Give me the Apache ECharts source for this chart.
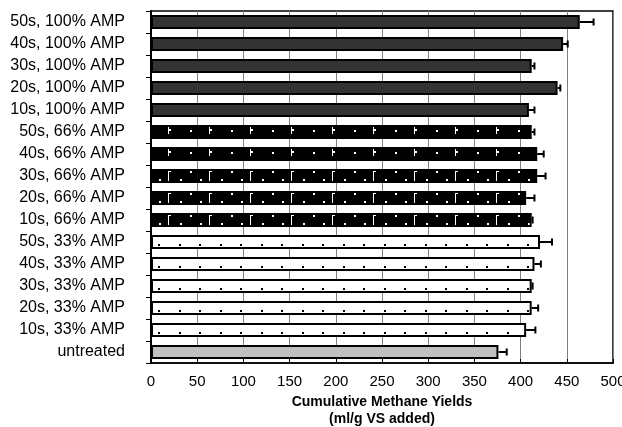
<!DOCTYPE html>
<html>
<head>
<meta charset="utf-8">
<script src="https://cdn.jsdelivr.net/npm/echarts@6/dist/echarts.min.js"></script>
<style>
  html, body { margin: 0; padding: 0; background: #fff; }
  #chart { width: 622px; height: 427px; }
</style>
</head>
<body>
<div id="chart"></div>
<script>
// Treatments, listed top to bottom
const categories = [
  '50s, 100% AMP', '40s, 100% AMP', '30s, 100% AMP', '20s, 100% AMP', '10s, 100% AMP',
  '50s, 66% AMP', '40s, 66% AMP', '30s, 66% AMP', '20s, 66% AMP', '10s, 66% AMP',
  '50s, 33% AMP', '40s, 33% AMP', '30s, 33% AMP', '20s, 33% AMP', '10s, 33% AMP',
  'untreated'
];
// Cumulative methane yield (ml/g VS added) and its standard deviation
const yields = [464, 446, 412, 440, 409, 412, 418, 418, 406, 412, 421, 415, 412, 412, 406, 376];
const errors = [15, 5, 3, 3, 6, 3, 7, 9, 9, 1, 13, 7, 1, 7, 10, 9];
// Fill style of each treatment
const fills = [
  'amp100', 'amp100', 'amp100', 'amp100', 'amp100',
  'amp66a', 'amp66a', 'amp66b', 'amp66b', 'amp66b',
  'amp33', 'amp33', 'amp33', 'amp33', 'amp33',
  'none'
];
const xTicks = [0, 50, 100, 150, 200, 250, 300, 350, 400, 450, 500];

// Layout constants
const GRID_TOP = 11;
const BAND = 22;          // pixels per category
const BAR_W = 14;
const BAR_OFF = (GRID_TOP + (BAND - BAR_W) / 2) % BAND;

// Tiled fill patterns, aligned with the bar band so marks sit inside each bar
function tile(w, bg, draw) {
  const c = document.createElement('canvas');
  c.width = w; c.height = BAND;
  const ctx = c.getContext('2d');
  ctx.fillStyle = bg;
  ctx.fillRect(0, 0, w, BAND);
  const mark = (x, y, ww, hh, col) => {
    ctx.fillStyle = col;
    for (const dy of [-BAND, 0, BAND]) ctx.fillRect(x, BAR_OFF + y + dy, ww, hh);
  };
  draw(mark);
  return { image: c, repeat: 'repeat' };
}

const patterns = {
  amp100: '#333333',
  none: '#c0c0c0',
  amp33: tile(41, '#ffffff', m => {
    m(15, 9, 2, 2, '#000');
    m(35, 9, 2, 2, '#000');
  }),
  amp66a: tile(41, '#000000', m => {
    m(4, 2, 1, 7, '#fff');
    m(5, 4, 2, 2, '#fff');
    m(26, 5, 2, 2, '#fff');
  }),
  amp66b: tile(41, '#000000', m => {
    m(4, 2, 1, 10, '#fff');
    m(4, 2, 3, 1, '#fff');
    m(26, 2, 2, 2, '#fff');
    m(16, 10, 2, 2, '#fff');
    m(36, 10, 2, 2, '#fff');
  })
};

const barData = yields.map((v, i) => ({
  value: v,
  itemStyle: { color: patterns[fills[i]] }
}));
const errData = yields.map((v, i) => [v, i, errors[i]]);

const chart = echarts.init(document.getElementById('chart'), null, { renderer: 'canvas' });
chart.setOption({
  animation: false,
  backgroundColor: '#ffffff',
  textStyle: { fontFamily: 'Liberation Sans, Arial, sans-serif' },
  grid: {
    left: 151, right: 9, top: GRID_TOP, height: BAND * categories.length,
    outerBoundsMode: 'none',
    containLabel: false,
    show: true, borderColor: '#000', borderWidth: 1.5, backgroundColor: 'transparent'
  },
  xAxis: {
    type: 'value',
    min: xTicks[0], max: xTicks[xTicks.length - 1], interval: 50,
    name: 'Cumulative Methane Yields\n(ml/g VS added)',
    nameLocation: 'middle',
    nameGap: 30,
    nameTextStyle: { fontSize: 14, fontWeight: 'bold', color: '#000', lineHeight: 17 },
    axisLine: { show: true, lineStyle: { color: '#000', width: 1.5 } },
    axisTick: { show: true, inside: true, length: 4, lineStyle: { color: '#000' } },
    axisLabel: { fontSize: 15, color: '#000', margin: 11 },
    splitLine: { show: true, lineStyle: { color: '#808080', width: 1 } }
  },
  yAxis: {
    type: 'category',
    data: categories,
    inverse: true,
    axisLine: { show: true, lineStyle: { color: '#000', width: 2 } },
    axisTick: { show: true, length: 5, lineStyle: { color: '#000', width: 1 } },
    axisLabel: { fontSize: 16, color: '#000', margin: 26 },
    splitLine: { show: false }
  },
  series: [
    {
      type: 'bar',
      data: barData,
      barWidth: BAR_W,
      itemStyle: { borderColor: '#000', borderWidth: 2 }
    },
    {
      type: 'custom',
      data: errData,
      encode: { x: 0, y: 1 },
      z: 3,
      renderItem(params, api) {
        const v = api.value(0), c = api.value(1), e = api.value(2);
        const p0 = api.coord([v, c]);
        const p1 = api.coord([v + e, c]);
        const h = 3.5;
        return {
          type: 'group',
          children: [
            { type: 'line', shape: { x1: p0[0], y1: p0[1], x2: p1[0], y2: p1[1] },
              style: { stroke: '#000', lineWidth: 2 } },
            { type: 'line', shape: { x1: p1[0], y1: p1[1] - h, x2: p1[0], y2: p1[1] + h },
              style: { stroke: '#000', lineWidth: 2 } }
          ]
        };
      }
    }
  ]
});
</script>
</body>
</html>
